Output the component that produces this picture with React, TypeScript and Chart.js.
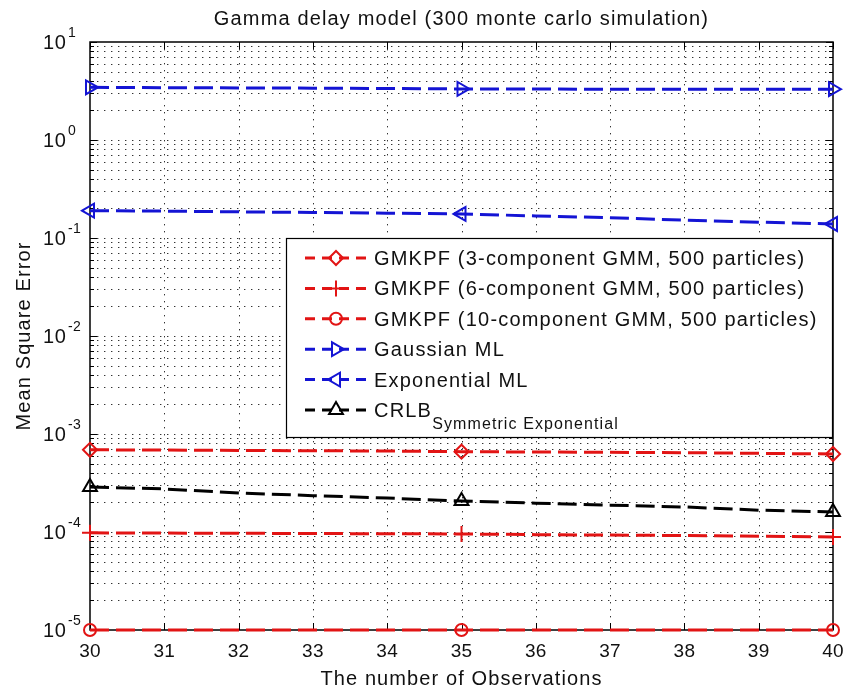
import { useEffect, useRef } from "react";
import { Chart, registerables } from "chart.js";
import { drawPoint } from "chart.js/helpers";

Chart.register(...registerables);

// Number of observations on the horizontal axis
const observations = [30, 31, 32, 33, 34, 35, 36, 37, 38, 39, 40];

// Mean square error per estimator
const gmkpf3 = [6.9e-4, 6.85e-4, 6.8e-4, 6.75e-4, 6.7e-4, 6.6e-4, 6.55e-4, 6.5e-4, 6.45e-4, 6.35e-4, 6.25e-4];
const gmkpf6 = [9.8e-5, 9.75e-5, 9.7e-5, 9.65e-5, 9.6e-5, 9.55e-5, 9.4e-5, 9.3e-5, 9.2e-5, 9.05e-5, 8.9e-5];
const gmkpf10 = [1e-5, 1e-5, 1e-5, 1e-5, 1e-5, 1e-5, 1e-5, 1e-5, 1e-5, 1e-5, 1e-5];
const gaussianMl = [3.45, 3.42, 3.4, 3.38, 3.35, 3.32, 3.31, 3.3, 3.3, 3.3, 3.3];
const exponentialMl = [0.19, 0.188, 0.185, 0.182, 0.179, 0.176, 0.168, 0.161, 0.152, 0.145, 0.139];
const crlb = [2.88e-4, 2.75e-4, 2.5e-4, 2.35e-4, 2.22e-4, 2.07e-4, 1.97e-4, 1.88e-4, 1.8e-4, 1.67e-4, 1.6e-4];

// Axis ticks
const xTicks = [30, 31, 32, 33, 34, 35, 36, 37, 38, 39, 40];
const yExponents = [1, 0, -1, -2, -3, -4, -5];

const titleText = "Gamma delay model (300 monte carlo simulation)";
const xTitle = "The number of Observations";
const yTitle = "Mean Square Error";

const FONT = '"Liberation Sans", Arial, Helvetica, sans-serif';
const RED = "rgb(226,20,20)";
const BLUE = "rgb(20,20,212)";
const BLACK = "rgb(0,0,0)";

type Series = {
  label: string;
  sub?: string;
  values: number[];
  color: string;
  style: string;
  rotation: number;
  radius: number;
};

const series: Series[] = [
  { label: "GMKPF (3-component GMM, 500 particles)", values: gmkpf3, color: RED, style: "rectRot", rotation: 0, radius: 7 },
  { label: "GMKPF (6-component GMM, 500 particles)", values: gmkpf6, color: RED, style: "cross", rotation: 0, radius: 8 },
  { label: "GMKPF (10-component GMM, 500 particles)", values: gmkpf10, color: RED, style: "circle", rotation: 0, radius: 6 },
  { label: "Gaussian ML", values: gaussianMl, color: BLUE, style: "triangle", rotation: 90, radius: 8 },
  { label: "Exponential ML", values: exponentialMl, color: BLUE, style: "triangle", rotation: -90, radius: 8 },
  { label: "CRLB", sub: "Symmetric Exponential", values: crlb, color: BLACK, style: "triangle", rotation: 0, radius: 8 },
];

// markers every fifth observation, as in the original MATLAB plot
const markerEvery = 5;

function setSpacing(ctx: CanvasRenderingContext2D, px: number) {
  (ctx as any).letterSpacing = `${px}px`;
}

function drawText(
  ctx: CanvasRenderingContext2D,
  str: string,
  x: number,
  y: number,
  size: number,
  align: CanvasTextAlign,
  spacing = 0
) {
  ctx.font = `${size}px ${FONT}`;
  setSpacing(ctx, spacing);
  ctx.textAlign = align;
  ctx.textBaseline = "alphabetic";
  ctx.fillText(str, x, y);
  setSpacing(ctx, 0);
}

function line(ctx: CanvasRenderingContext2D, x1: number, y1: number, x2: number, y2: number) {
  ctx.beginPath();
  ctx.moveTo(x1, y1);
  ctx.lineTo(x2, y2);
  ctx.stroke();
}

const matlabAxes = {
  id: "matlabAxes",
  beforeDraw(chart: any) {
    const { ctx, width, height } = chart;
    ctx.save();
    ctx.fillStyle = "#ffffff";
    ctx.fillRect(0, 0, width, height);
    ctx.restore();
  },
  beforeDatasetsDraw(chart: any) {
    const { ctx, chartArea: a, scales } = chart;
    const xs = scales.x;
    const ys = scales.y;
    ctx.save();

    // dotted grid
    ctx.strokeStyle = "rgba(0,0,0,0.8)";
    ctx.lineWidth = 1;
    ctx.setLineDash([1.4, 5.6]);
    for (const t of xTicks.slice(1, -1)) {
      const px = Math.round(xs.getPixelForValue(t)) + 0.5;
      line(ctx, px, a.top, px, a.bottom);
    }
    const lo = Math.min(...yExponents);
    const hi = Math.max(...yExponents);
    for (let e = lo; e < hi; e++) {
      for (let m = 1; m <= 9; m++) {
        if (e === lo && m === 1) continue;
        const py = Math.round(ys.getPixelForValue(m * Math.pow(10, e))) + 0.5;
        line(ctx, a.left, py, a.right, py);
      }
    }
    ctx.setLineDash([]);

    // box
    ctx.strokeStyle = BLACK;
    ctx.lineWidth = 1.5;
    ctx.strokeRect(a.left, a.top, a.right - a.left, a.bottom - a.top);

    // inward tick marks
    ctx.lineWidth = 1;
    for (const t of xTicks) {
      const px = Math.round(xs.getPixelForValue(t)) + 0.5;
      line(ctx, px, a.bottom, px, a.bottom - 7);
      line(ctx, px, a.top, px, a.top + 7);
    }
    for (let e = lo; e <= hi; e++) {
      for (let m = 1; m <= 9; m++) {
        if (e === hi && m > 1) break;
        const py = Math.round(ys.getPixelForValue(m * Math.pow(10, e))) + 0.5;
        const len = m === 1 ? 7 : 4;
        line(ctx, a.left, py, a.left + len, py);
        line(ctx, a.right, py, a.right - len, py);
      }
    }
    ctx.restore();
  },
  afterDatasetsDraw(chart: any) {
    const { ctx, chartArea: a, scales } = chart;
    const xs = scales.x;
    const ys = scales.y;
    ctx.save();
    ctx.fillStyle = "#111";

    // x tick labels
    for (const t of xTicks) {
      drawText(ctx, String(t), xs.getPixelForValue(t), a.bottom + 27, 19, "center", 0.3);
    }
    // y tick labels with superscript exponents
    for (const e of yExponents) {
      const py = ys.getPixelForValue(Math.pow(10, e));
      drawText(ctx, "10", 43, py + 7, 20, "left", 0.6);
      drawText(ctx, String(e), 68, py - 5, 14, "left", 0.3);
    }

    const cx = (a.left + a.right) / 2;
    drawText(ctx, titleText, cx, 25, 20, "center", 1.15);
    drawText(ctx, xTitle, cx, a.bottom + 55, 20, "center", 1.1);

    ctx.save();
    ctx.translate(30, (a.top + a.bottom) / 2);
    ctx.rotate(-Math.PI / 2);
    drawText(ctx, yTitle, 0, 0, 20, "center", 1.1);
    ctx.restore();

    // legend
    const lx = 286;
    const ly = 238;
    const lw = 546;
    const lh = 199;
    ctx.fillStyle = "#ffffff";
    ctx.fillRect(lx, ly, lw, lh);
    ctx.strokeStyle = BLACK;
    ctx.lineWidth = 1.2;
    ctx.strokeRect(lx + 0.5, ly + 0.5, lw, lh);

    series.forEach((s, i) => {
      const base = 265 + i * 30.4;
      const my = base - 7;
      ctx.strokeStyle = s.color;
      ctx.lineWidth = 3;
      ctx.setLineDash([10, 7]);
      line(ctx, 305, my, 368, my);
      ctx.setLineDash([]);
      ctx.fillStyle = "rgba(0,0,0,0)";
      ctx.lineWidth = 2;
      drawPoint(ctx, { pointStyle: s.style as any, rotation: s.rotation, radius: s.radius, borderWidth: 2 }, 336, my);
      ctx.fillStyle = "#111";
      drawText(ctx, s.label, 374, base, 20, "left", 1.2);
      if (s.sub) {
        ctx.font = `20px ${FONT}`;
        setSpacing(ctx, 1.2);
        const w = ctx.measureText(s.label).width;
        setSpacing(ctx, 0);
        drawText(ctx, s.sub, 374 + w, base + 12, 16, "left", 1.1);
      }
    });

    ctx.restore();
  },
};

export default function App() {
  const canvasRef = useRef<HTMLCanvasElement | null>(null);

  useEffect(() => {
    const canvas = canvasRef.current;
    if (!canvas) return;
    const radii = observations.map((_, i) => (i % markerEvery === 0 ? 1 : 0));

    const chart = new Chart(canvas, {
      type: "line",
      data: {
        datasets: series.map((s) => ({
          label: s.sub ? `${s.label} ${s.sub}` : s.label,
          data: observations.map((x, i) => ({ x, y: s.values[i] })),
          borderColor: s.color,
          borderWidth: 3,
          borderDash: [19, 7],
          backgroundColor: "rgba(0,0,0,0)",
          pointStyle: s.style as any,
          pointRotation: s.rotation,
          pointRadius: radii.map((r) => r * s.radius),
          pointBorderColor: s.color,
          pointBackgroundColor: "rgba(0,0,0,0)",
          pointBorderWidth: 2,
          pointHoverRadius: 0,
          tension: 0,
          fill: false,
          clip: false as any,
        })),
      },
      options: {
        responsive: false,
        animation: false,
        events: [],
        layout: { padding: { left: 90, top: 42, right: 12, bottom: 64 } },
        plugins: {
          legend: { display: false },
          title: { display: false },
          tooltip: { enabled: false },
        },
        scales: {
          x: { type: "linear", display: false, min: xTicks[0], max: xTicks[xTicks.length - 1] },
          y: {
            type: "logarithmic",
            display: false,
            min: Math.pow(10, Math.min(...yExponents)),
            max: Math.pow(10, Math.max(...yExponents)),
          },
        },
      },
      plugins: [matlabAxes],
    });

    return () => chart.destroy();
  }, []);

  return (
    <div style={{ position: "fixed", left: 0, top: 0, width: 845, height: 694, background: "#fff" }}>
      <canvas ref={canvasRef} width={845} height={694} style={{ display: "block" }} />
    </div>
  );
}
